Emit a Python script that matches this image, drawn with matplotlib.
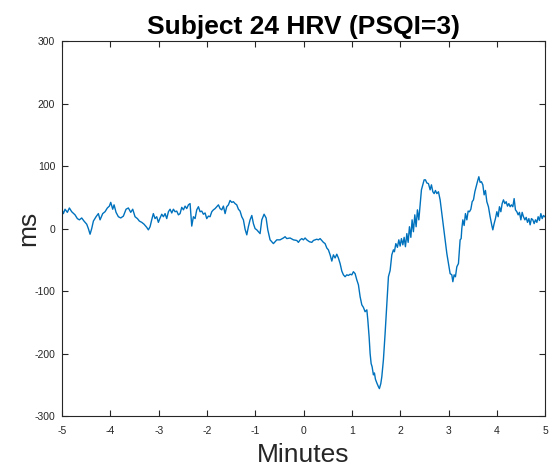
import matplotlib
matplotlib.use("Agg")
import matplotlib.pyplot as plt

# HRV trace (minutes, ms)
minutes = [
    -5.000, -4.972, -4.938, -4.890, -4.848, -4.800, -4.731, -4.683, -4.641, -4.593,
    -4.545, -4.489, -4.455, -4.420, -4.386, -4.351, -4.296, -4.248, -4.213, -4.158,
    -4.110, -4.062, -4.020, -3.992, -3.951, -3.923, -3.882, -3.834, -3.785, -3.730,
    -3.675, -3.627, -3.578, -3.537, -3.489, -3.440, -3.399, -3.350, -3.302, -3.247,
    -3.213, -3.178, -3.144, -3.110, -3.075, -3.040, -3.006,
    -2.971, -2.936, -2.902, -2.867, -2.833, -2.798, -2.764, -2.729, -2.695, -2.660,
    -2.626, -2.591, -2.557, -2.522, -2.487, -2.453, -2.419, -2.384, -2.350, -2.315,
    -2.281, -2.246, -2.212, -2.177, -2.143, -2.108, -2.074, -2.039, -2.005, -1.970,
    -1.936, -1.901, -1.867, -1.832, -1.798, -1.763, -1.729, -1.694, -1.660, -1.625,
    -1.591, -1.556, -1.522, -1.487, -1.453, -1.418, -1.384, -1.349, -1.315, -1.280,
    -1.246, -1.211, -1.176, -1.143, -1.108, -1.072, -1.039, -1.004, -0.969, -0.936,
    -0.901, -0.865, -0.818, -0.776, -0.741, -0.694, -0.638,
    -0.625, -0.555, -0.487, -0.418, -0.383, -0.348, -0.280, -0.211, -0.141, -0.108,
    -0.072, -0.037, -0.004, 0.031, 0.066, 0.120, 0.170, 0.203, 0.238, 0.273,
    0.306, 0.342, 0.377, 0.410, 0.445, 0.480, 0.513, 0.549, 0.584, 0.617,
    0.652, 0.687, 0.720, 0.756, 0.791, 0.824, 0.859, 0.894, 0.928, 0.963,
    0.998, 1.031, 1.066, 1.101, 1.135, 1.170, 1.205, 1.238, 1.273, 1.309,
    1.329, 1.356, 1.377, 1.398, 1.418, 1.445, 1.466, 1.487, 1.516, 1.549,
    1.569, 1.598, 1.619, 1.652, 1.687, 1.723, 1.756, 1.791, 1.826, 1.859,
    1.880, 1.909, 1.942, 1.971, 1.998, 2.025, 2.054, 2.081, 2.108, 2.137,
    2.164, 2.191, 2.220, 2.246, 2.273, 2.302, 2.329, 2.356, 2.385, 2.412,
    2.439, 2.468, 2.495, 2.522, 2.551, 2.584, 2.619, 2.646, 2.675, 2.702,
    2.729, 2.758, 2.791, 2.826, 2.861, 2.894, 2.930, 2.965, 2.998, 3.033,
    3.068, 3.089, 3.116, 3.143, 3.172, 3.205, 3.240, 3.261, 3.275, 3.296,
    3.323, 3.350, 3.379, 3.406, 3.433, 3.462, 3.489, 3.516, 3.545, 3.571,
    3.598, 3.627, 3.654, 3.681, 3.710, 3.737, 3.764, 3.793, 3.826, 3.861,
    3.896, 3.917, 3.944, 3.971, 4.000, 4.027, 4.054, 4.083, 4.110, 4.137,
    4.166, 4.193, 4.220, 4.248, 4.275, 4.302, 4.331, 4.358, 4.385, 4.414,
    4.441, 4.468, 4.497, 4.524, 4.551, 4.580, 4.607, 4.634, 4.663, 4.689,
    4.716, 4.745, 4.772, 4.799, 4.828, 4.855, 4.882, 4.911, 4.938, 4.965,
    4.994,
]

hrv_ms = [
    30, 24, 31, 26, 33, 27, 22, 16, 14, 17,
    12, 7, 0, -9, 0, 12, 19, 24, 14, 24,
    27, 33, 36, 42, 31, 38, 26, 19, 17, 20,
    31, 33, 26, 31, 19, 16, 12, 10, 7, 2,
    -2, 3, 14, 24, 16, 19, 10,
    17, 23, 19, 24, 16, 27, 31, 25, 31, 27,
    28, 22, 24, 34, 30, 36, 32, 38, 40, 4,
    19, 16, 30, 35, 27, 28, 23, 25, 16, 20,
    19, 27, 30, 32, 35, 38, 32, 30, 36, 24,
    35, 38, 45, 42, 43, 40, 38, 31, 28, 19,
    14, -1, -10, 3, 14, 21, 8, 0, -2, -5,
    -8, 14, 23, 17, -2, -18, -23,
    -24, -18, -18, -15, -13, -16, -15, -18, -19, -22,
    -18, -16, -18, -15, -18, -21, -22, -19, -18, -17,
    -18, -16, -19, -22, -24, -31, -34, -42, -52, -42,
    -47, -41, -47, -56, -68, -74, -77, -74, -75, -73,
    -74, -69, -72, -82, -90, -109, -122, -126, -133, -130,
    -146, -173, -200, -216, -221, -234, -231, -241, -247, -253,
    -256, -248, -237, -210, -168, -120, -77, -67, -42, -34,
    -37, -24, -30, -18, -28, -16, -26, -14, -29, -8,
    -22, 3, -14, 14, -5, 22, 3, 30, 14, 38,
    62, 70, 78, 78, 73, 72, 62, 70, 59, 56,
    61, 56, 59, 46, 24, 3, -18, -40, -56, -72,
    -74, -85, -74, -77, -61, -56, -18, -16, 0, 14,
    5, 24, 14, 28, 27, 31, 43, 46, 59, 67,
    75, 83, 74, 75, 70, 54, 61, 43, 35, 19,
    5, -2, 8, 16, 27, 19, 35, 27, 40, 46,
    40, 43, 36, 40, 35, 38, 35, 48, 30, 27,
    22, 26, 14, 26, 19, 14, 18, 10, 16, 6,
    16, 14, 8, 14, 10, 19, 13, 24, 16, 21,
    19,
]

x_ticks = [-5, -4, -3, -2, -1, 0, 1, 2, 3, 4, 5]
y_ticks = [-300, -200, -100, 0, 100, 200, 300]

plt.rcParams["font.family"] = ["Liberation Sans", "DejaVu Sans"]
plt.rcParams["axes.unicode_minus"] = False

fig = plt.figure(figsize=(5.49, 4.67), dpi=100)
ax = fig.add_axes([0.113, 0.109, 0.880, 0.803])

ax.plot(minutes, hrv_ms, color="#0072BD", linewidth=1.0)

ax.set_xlim(-5, 5)
ax.set_ylim(-300, 300)
ax.set_xticks(x_ticks)
ax.set_yticks(y_ticks)

axis_grey = "#262626"
for spine in ax.spines.values():
    spine.set_color(axis_grey)
    spine.set_linewidth(0.8)
ax.tick_params(direction="in", top=True, right=True, length=4, width=0.8,
               colors=axis_grey, labelsize=7.5)
ax.tick_params(axis="x", pad=7)
ax.tick_params(axis="y", pad=5)

ax.set_title("Subject 24 HRV (PSQI=3)", fontsize=19, fontweight="bold", pad=5)
ax.set_xlabel("Minutes", fontsize=19, color=axis_grey, labelpad=5)
ax.set_ylabel("ms", fontsize=19, color=axis_grey, labelpad=-4)

fig.savefig("out.png", dpi=100)
